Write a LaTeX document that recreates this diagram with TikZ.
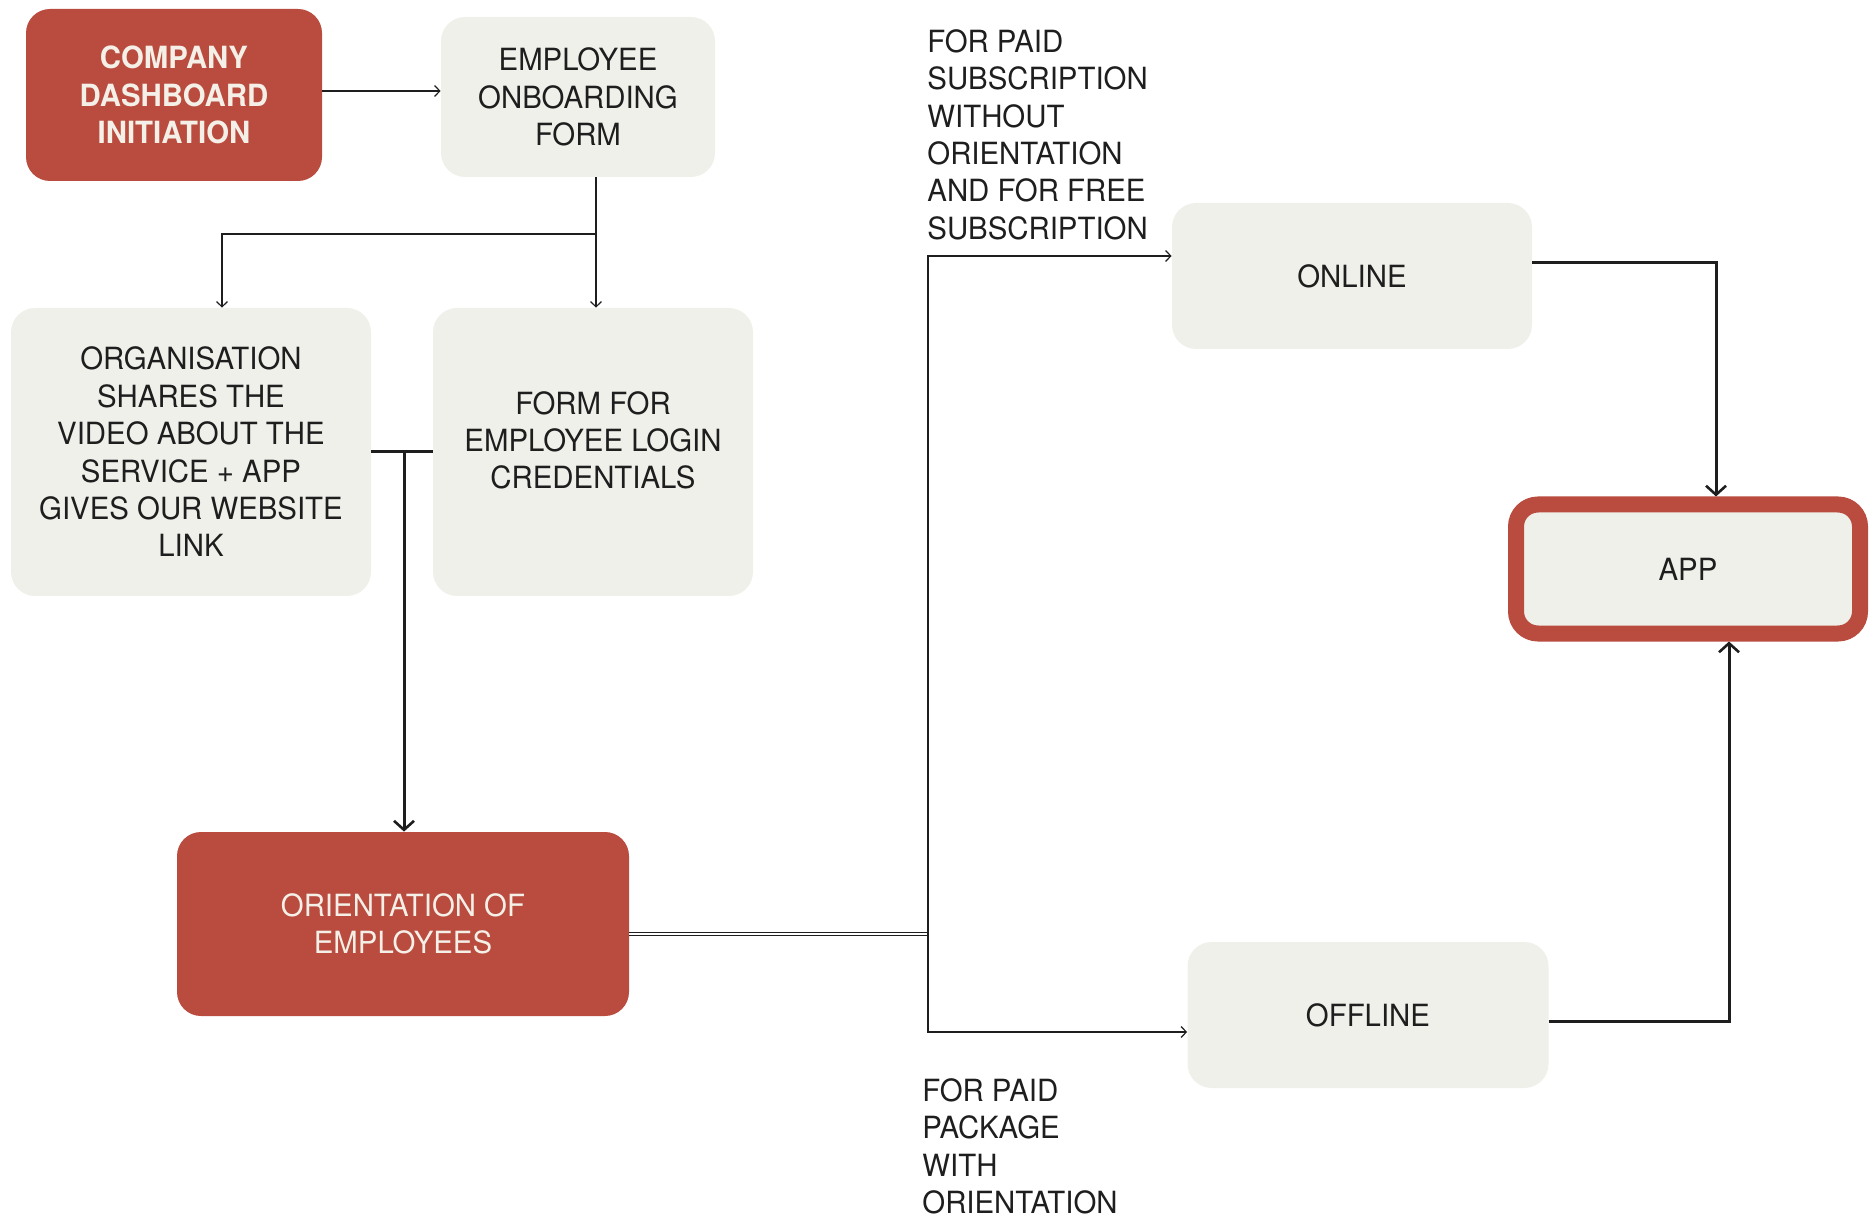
\documentclass[tikz,border=0pt]{standalone}
\usepackage{fontspec}
\setmainfont{TeX Gyre Heros}[FakeStretch=0.96]
\usetikzlibrary{arrows.meta}
\definecolor{brick}{HTML}{B94C3E}
\definecolor{paper}{HTML}{F0F0EB}
\definecolor{ink}{HTML}{1E1E1E}
\definecolor{cream}{HTML}{F4F0E8}

\begin{document}
\begin{tikzpicture}[x=0.5pt, y=-0.5pt,
    every node/.style={font=\fontsize{15.3}{18.7}\selectfont, text=ink, align=center},
    box/.style={fill=paper, rounded corners=12pt, inner sep=0pt},
    redbox/.style={fill=brick, rounded corners=12pt, inner sep=0pt, text=cream},
    thinline/.style={line width=0.6pt, ink},
    thickline/.style={line width=1.5pt, ink},
    tip/.style={-{Straight Barb[length=2.6pt, width=5.5pt]}},
    bigtip/.style={-{Straight Barb[length=4.5pt, width=10pt, line width=1.3pt]}}]
    \useasboundingbox (0,0) rectangle (1872,1218);

    % boxes
    \node[redbox, minimum width=148pt, minimum height=86pt, font=\fontsize{15.3}{18.7}\selectfont\bfseries] (company) at (174,95) {COMPANY\\DASHBOARD\\INITIATION};
    \node[box, minimum width=137pt, minimum height=80pt] (form) at (578,97) {EMPLOYEE\\ONBOARDING\\FORM};
    \node[box, minimum width=180pt, minimum height=144pt] (org) at (191,452) {ORGANISATION\\SHARES THE\\VIDEO ABOUT THE\\SERVICE + APP\\GIVES OUR WEBSITE\\LINK};
    \node[box, minimum width=160pt, minimum height=144pt, text depth=12pt] (login) at (593,452) {FORM FOR\\EMPLOYEE LOGIN\\CREDENTIALS};
    \node[redbox, minimum width=226pt, minimum height=92pt] (orient) at (403,924) {ORIENTATION OF\\EMPLOYEES};
    \node[box, minimum width=180pt, minimum height=73pt] (online) at (1352,276) {ONLINE};
    \node[box, minimum width=180.5pt, minimum height=73pt] (offline) at (1368,1015) {OFFLINE};
    \node[fill=paper, draw=brick, line width=8pt, rounded corners=11pt, inner sep=0pt,
          minimum width=172pt, minimum height=64.5pt] (app) at (1688,569) {APP};

    % labels
    \node[anchor=north west, align=left, inner sep=0pt] (withoutlbl) at (927,29) {FOR PAID\\SUBSCRIPTION\\WITHOUT\\ORIENTATION\\AND FOR FREE\\SUBSCRIPTION};
    \node[anchor=north west, align=left, inner sep=0pt] (withlbl) at (922,1078) {FOR PAID\\PACKAGE\\WITH\\ORIENTATION};

    % connectors
    \coordinate (split) at (596,234);
    \coordinate (drop) at (404,452);
    \coordinate (fork) at (928,934);
    \coordinate (up) at (928,256);
    \coordinate (down) at (928,1032);

    \draw[thinline, tip] ([yshift=2pt]company.east) -- ([yshift=2pt]company.east -| form.west);
    \draw[thinline] (split |- form.south) -- (split);
    \draw[thinline, tip] (split) -- (split |- login.north);
    \draw[thinline, tip] (split) -| ([xshift=15.5pt]org.north);

    \draw[thickline] (org.east) -- (login.west);
    \draw[thickline, bigtip] (drop) -- (drop |- orient.north);

    \draw[thinline, double, double distance=1.2pt] ([yshift=-5pt]orient.east) -- (fork);
    \draw[thinline, tip] (fork) -- (up) -- (up -| online.west);
    \draw[thinline, tip] (fork) -- (down) -- (down -| offline.west);

    \draw[thickline, bigtip] ([yshift=6.5pt]online.east) -| ([xshift=14pt]app.north);
    \draw[thickline, bigtip] ([yshift=-3pt]offline.east) -| ([xshift=20.5pt]app.south);
\end{tikzpicture}
\end{document}
